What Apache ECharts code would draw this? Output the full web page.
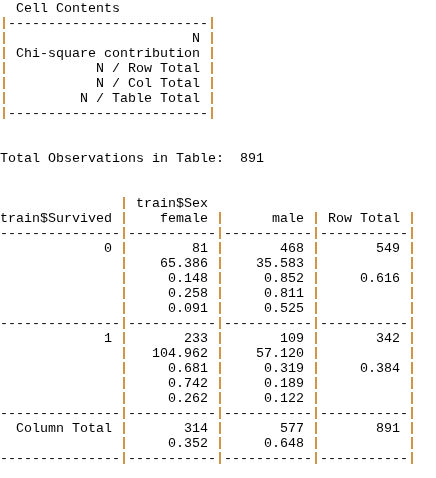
<!DOCTYPE html>
<html>
<head>
<meta charset="utf-8">
<script src="https://cdn.jsdelivr.net/npm/echarts@6/dist/echarts.min.js"></script>
<style>html,body{margin:0;background:#fff}#c{width:436px;height:478px}</style>
</head>
<body>
<div id="c"></div>
<script>
// 数据
const rowLabels = ['0', '1'];
const colLabels = ['female', 'male'];
const counts = [[81, 468], [233, 109]];
const chiSq = [['65.386', '35.583'], ['104.962', '57.120']];
const rowProp = [['0.148', '0.852'], ['0.681', '0.319']];
const colProp = [['0.258', '0.811'], ['0.742', '0.189']];
const tableProp = [['0.091', '0.525'], ['0.262', '0.122']];
const rowTotals = [549, 342];
const rowTotalProp = ['0.616', '0.384'];
const colTotals = [314, 577];
const colTotalProp = ['0.352', '0.648'];
const grandTotal = 891;

const padL = (s, n) => String(s).padStart(n);
const dash = '---------------|-----------|-----------|-----------|';

function row(label, cells, total) {
    return padL(label, 14) + ' |' + cells.map(c => padL(c, 10) + ' |').join('') + padL(total, 10) + ' | ';
}

const lines = [
    '  Cell Contents',
    '|-------------------------|',
    '|                       N |',
    '| Chi-square contribution |',
    '|           N / Row Total |',
    '|           N / Col Total |',
    '|         N / Table Total |',
    '|-------------------------|',
    '',
    '',
    'Total Observations in Table:  ' + grandTotal,
    '',
    '',
    '               | train$Sex ',
    'train$Survived |' + colLabels.map(c => padL(c, 10) + ' |').join('') + ' Row Total | ',
    dash
];
rowLabels.forEach((r, i) => {
    lines.push(row(r, counts[i], rowTotals[i]));
    lines.push(row('', chiSq[i], ''));
    lines.push(row('', rowProp[i], rowTotalProp[i]));
    lines.push(row('', colProp[i], ''));
    lines.push(row('', tableProp[i], ''));
    lines.push(dash);
});
lines.push(row('Column Total', colTotals, grandTotal));
lines.push(row('', colTotalProp, ''));
lines.push(dash);

// 把竖线染成橙色
function toRich(s) {
    return s.split('|').map(p => p ? '{t|' + p + '}' : '').join('{p||}');
}

const chart = echarts.init(document.getElementById('c'));
const font = '"Liberation Mono", "DejaVu Sans Mono", monospace';
chart.setOption({
    backgroundColor: '#fff',
    graphic: lines.map((l, i) => ({
        type: 'text',
        x: 0,
        y: 8 + i * 15,
        style: {
            text: toRich(l.replace(/ /g, '\u00a0')),
            verticalAlign: 'middle',
            font: '13.33px ' + font,
            rich: {
                t: { fontFamily: font, fontSize: 13.33, fill: '#000' },
                p: { fontFamily: font, fontSize: 13.33, fill: '#c8862a', fontWeight: 'bold' }
            }
        }
    }))
});
</script>
</body>
</html>
